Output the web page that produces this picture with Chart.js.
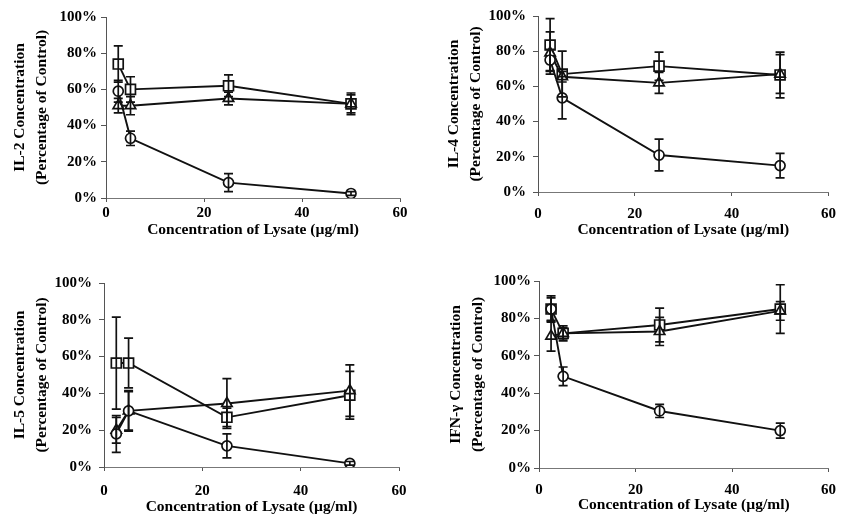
<!DOCTYPE html>
<html>
<head>
<meta charset="utf-8">
<script src="https://cdn.jsdelivr.net/npm/chart.js@4.4.0/dist/chart.umd.min.js"></script>
<style>
  body { margin: 0; background: #fff; width: 845px; height: 517px; position: relative; overflow: hidden; }
  canvas { position: absolute; }
</style>
</head>
<body>
<canvas id="c1" width="420" height="255" style="left:0px;top:0px"></canvas>
<canvas id="c2" width="425" height="255" style="left:420px;top:0px"></canvas>
<canvas id="c3" width="420" height="262" style="left:0px;top:255px"></canvas>
<canvas id="c4" width="425" height="262" style="left:420px;top:255px"></canvas>
<script>
// lysate concentrations (ug/ml)
var conc = [2.5, 5, 25, 50];
var xTickStep = 20;
var yTickStep = 20;

// IL-2
var il2Square = [74, 60, 62, 52];
var il2SquareErr = [10, 7, 6, 6];
var il2Triangle = [51, 51, 55, 52];
var il2TriangleErr = [4, 5, 3.5, 5];
var il2Circle = [59, 33, 8.5, 2.5];
var il2CircleErr = [6, 4, 5, 1];

// IL-4
var il4Square = [83.5, 67, 71.5, 66.5];
var il4SquareErr = [15, 13, 8, 13];
var il4Triangle = [79, 65.5, 62, 67];
var il4TriangleErr = [12, 3, 6, 11];
var il4Circle = [75, 53.5, 21, 15];
var il4CircleErr = [6, 12, 9, 7];

// IL-5
var il5Square = [56.5, 56.5, 27, 39];
var il5SquareErr = [25, 13.5, 5, 13];
var il5Triangle = [20, 30.5, 34.5, 41.5];
var il5TriangleErr = [7, 10.5, 13.5, 14];
var il5Circle = [18, 30.5, 11.5, 2];
var il5CircleErr = [10, 11, 6.5, 1];

// IFN-gamma
var ifnSquare = [85, 72, 76.5, 85];
var ifnSquareErr = [7, 4, 9, 13];
var ifnTriangle = [70.5, 72, 73, 84];
var ifnTriangleErr = [8, 3, 7.5, 5];
var ifnCircle = [85, 49, 30.5, 20];
var ifnCircleErr = [6, 5, 3.5, 4];

var FONT = "'Liberation Serif', 'Times New Roman', serif";

// error bars drawn with the chart's own scales
var errorBars = {
  id: 'errorBars',
  afterDatasetsDraw: function(chart) {
    var ctx = chart.ctx, xs = chart.scales.x, ys = chart.scales.y;
    chart.data.datasets.forEach(function(ds) {
      if (!ds.errors) return;
      ctx.save();
      ctx.strokeStyle = '#111';
      ctx.lineWidth = 1.7;
      ds.data.forEach(function(p, i) {
        var e = ds.errors[i];
        var x = xs.getPixelForValue(p.x);
        var yt = ys.getPixelForValue(p.y + e);
        var yb = ys.getPixelForValue(Math.max(0, p.y - e));
        ctx.beginPath();
        ctx.moveTo(x, yt); ctx.lineTo(x, yb);
        ctx.moveTo(x - 4.5, yt); ctx.lineTo(x + 4.5, yt);
        ctx.moveTo(x - 4.5, yb); ctx.lineTo(x + 4.5, yb);
        ctx.stroke();
      });
      ctx.restore();
    });
  }
};

function pts(vals) {
  return vals.map(function(v, i) { return { x: conc[i], y: v }; });
}

function series(label, vals, errs, style, radius) {
  return {
    label: label,
    data: pts(vals),
    errors: errs,
    borderColor: '#111',
    borderWidth: 1.9,
    pointStyle: style,
    pointRadius: radius,
    pointBackgroundColor: '#fff',
    pointBorderColor: '#111',
    pointBorderWidth: 1.7,
    tension: 0,
    fill: false
  };
}

function makePanel(id, title, sq, sqErr, tri, triErr, cir, cirErr, p) {
  var canvas = document.getElementById(id);
  new Chart(canvas.getContext('2d'), {
    type: 'line',
    data: {
      datasets: [
        series('circle', cir, cirErr, 'circle', 5),
        series('triangle', tri, triErr, 'triangle', 6),
        series('square', sq, sqErr, 'rect', 7)
      ]
    },
    options: {
      responsive: false,
      animation: false,
      devicePixelRatio: 1,
      layout: { padding: { left: 0, top: p.padTop, right: p.padRight, bottom: 0 } },
      plugins: { legend: { display: false }, tooltip: { enabled: false } },
      scales: {
        x: {
          type: 'linear', min: 0, max: 60,
          ticks: { stepSize: xTickStep, padding: p.xTickPad, color: '#000',
                   font: { family: FONT, size: 15, weight: 'bold' } },
          grid: { drawOnChartArea: false, drawTicks: true, tickLength: 4, color: '#555' },
          border: { color: '#777', width: 1 },
          title: { display: true, text: 'Concentration of Lysate (\u00b5g/ml)', color: '#000',
                   font: { family: FONT, size: 15.5, weight: 'bold', lineHeight: 1.2 },
                   padding: { top: 0, bottom: p.xTitlePad } },
          afterFit: function(s) { s.height = p.xHeight; }
        },
        y: {
          min: 0, max: 100,
          ticks: { stepSize: yTickStep, padding: p.yTickPad, color: '#000',
                   font: { family: FONT, size: 15, weight: 'bold' },
                   callback: function(v) { return v + '%'; } },
          grid: { drawOnChartArea: false, drawTicks: true, tickLength: 5, color: '#555' },
          border: { color: '#555', width: 1 },
          title: { display: true, text: [title, '(Percentage of Control)'], color: '#000',
                   font: { family: FONT, size: 15.5, weight: 'bold', lineHeight: 1.42 },
                   padding: { top: p.yTitlePad, bottom: 0 } },
          afterFit: function(s) { s.width = p.yWidth; }
        }
      }
    },
    plugins: [errorBars]
  });
}

makePanel('c1', 'IL-2 Concentration', il2Square, il2SquareErr, il2Triangle, il2TriangleErr, il2Circle, il2CircleErr,
  { padTop: 17, padRight: 20, yWidth: 106, xHeight: 57, xTickPad: 2, xTitlePad: 15.7, yTickPad: 4, yTitlePad: 9 });
makePanel('c2', 'IL-4 Concentration', il4Square, il4SquareErr, il4Triangle, il4TriangleErr, il4Circle, il4CircleErr,
  { padTop: 16, padRight: 11, yWidth: 118, xHeight: 63, xTickPad: 9, xTitlePad: 15.7, yTickPad: 7, yTitlePad: 23 });
makePanel('c3', 'IL-5 Concentration', il5Square, il5SquareErr, il5Triangle, il5TriangleErr, il5Circle, il5CircleErr,
  { padTop: 28, padRight: 21, yWidth: 104, xHeight: 50, xTickPad: 11, xTitlePad: 0.7, yTickPad: 7, yTitlePad: 9 });
makePanel('c4', 'IFN-\u03b3 Concentration', ifnSquare, ifnSquareErr, ifnTriangle, ifnTriangleErr, ifnCircle, ifnCircleErr,
  { padTop: 26, padRight: 10, yWidth: 119, xHeight: 49, xTickPad: 9, xTitlePad: 2.7, yTickPad: 3, yTitlePad: 25 });
</script>
</body>
</html>
